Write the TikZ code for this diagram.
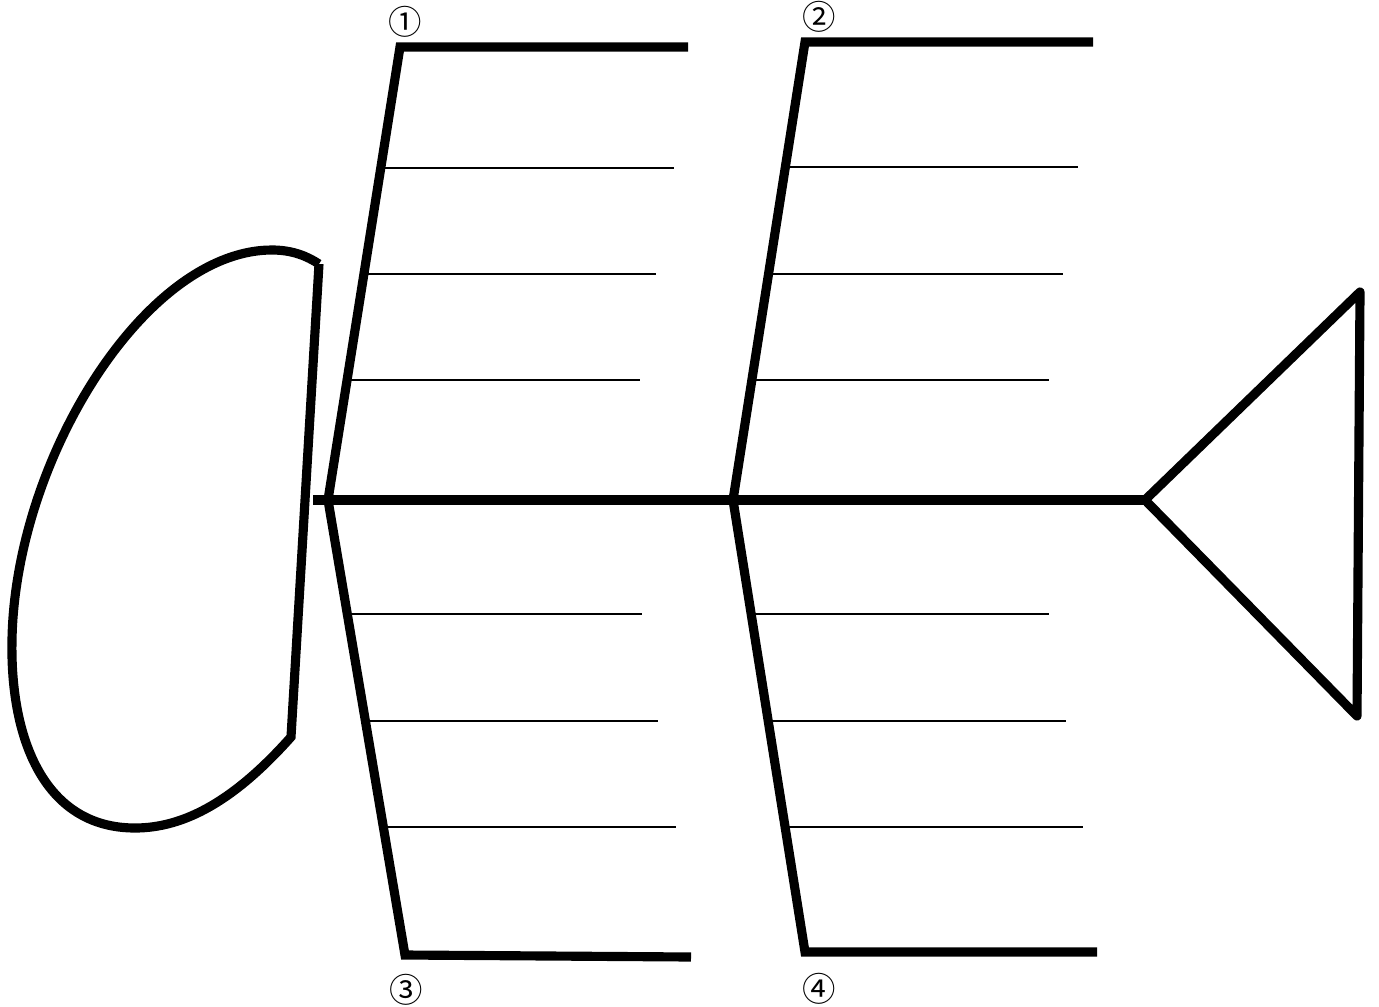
\documentclass[tikz,border=0pt]{standalone}
\usepackage{fontspec}
\newfontfamily\circfont{Noto Sans CJK JP}
\usetikzlibrary{positioning}

\begin{document}
\begin{tikzpicture}[
    x=0.01cm, y=-0.01cm,
    bone/.style={line width=2.6pt, line join=miter},
    rib/.style={line width=0.55pt},
    num/.style={font=\circfont\fontsize{9.5}{10}\selectfont, inner sep=0pt}
]
    \useasboundingbox (0,0) rectangle (1379,1006);

    % Points
    \coordinate (neck) at (313,500);
    \coordinate (j1) at (328,500);
    \coordinate (j2) at (733,500);
    \coordinate (tail) at (1145,500);
    \coordinate (fintop) at (1360,292);
    \coordinate (finbot) at (1357,716);
    \coordinate (headtop) at (319,264);
    \coordinate (headbot) at (291,737);

    % Head
    \draw[bone] (headtop) -- (headbot)
        .. controls (235,800) and (185,828) .. (135,828)
        .. controls (45,828) and (10,740) .. (12,640)
        .. controls (15,460) and (145,250) .. (272,250)
        .. controls (292,250) and (307,256) .. (headtop);

    % Spine and tail
    \draw[bone] (neck) -- (tail);
    \draw[bone, line join=round, line cap=round] (tail) -- (fintop) -- (finbot) -- cycle;

    % Big bones
    \draw[bone] (j1) -- (400,47) -- (688,47);
    \draw[bone] (j2) -- (805,42) -- (1093,42);
    \draw[bone] (j1) -- (405,955) -- (691,957);
    \draw[bone] (j2) -- (805,952) -- (1097,952);

    % Small bones
    \draw[rib] (383,168) -- (674,168);
    \draw[rib] (366,274) -- (656,274);
    \draw[rib] (350,380) -- (640,380);
    \draw[rib] (788,167) -- (1078,167);
    \draw[rib] (771,274) -- (1063,274);
    \draw[rib] (755,380) -- (1049,380);
    \draw[rib] (349,614) -- (642,614);
    \draw[rib] (367,721) -- (658,721);
    \draw[rib] (384,827) -- (676,827);
    \draw[rib] (753,614) -- (1049,614);
    \draw[rib] (770,721) -- (1066,721);
    \draw[rib] (787,827) -- (1083,827);

    % Labels
    \node[num] (n1) at (405,22) {①};
    \node[num] (n2) at (819,17) {②};
    \node[num] (n3) at (406,990) {③};
    \node[num] (n4) at (819,989) {④};
\end{tikzpicture}
\end{document}
